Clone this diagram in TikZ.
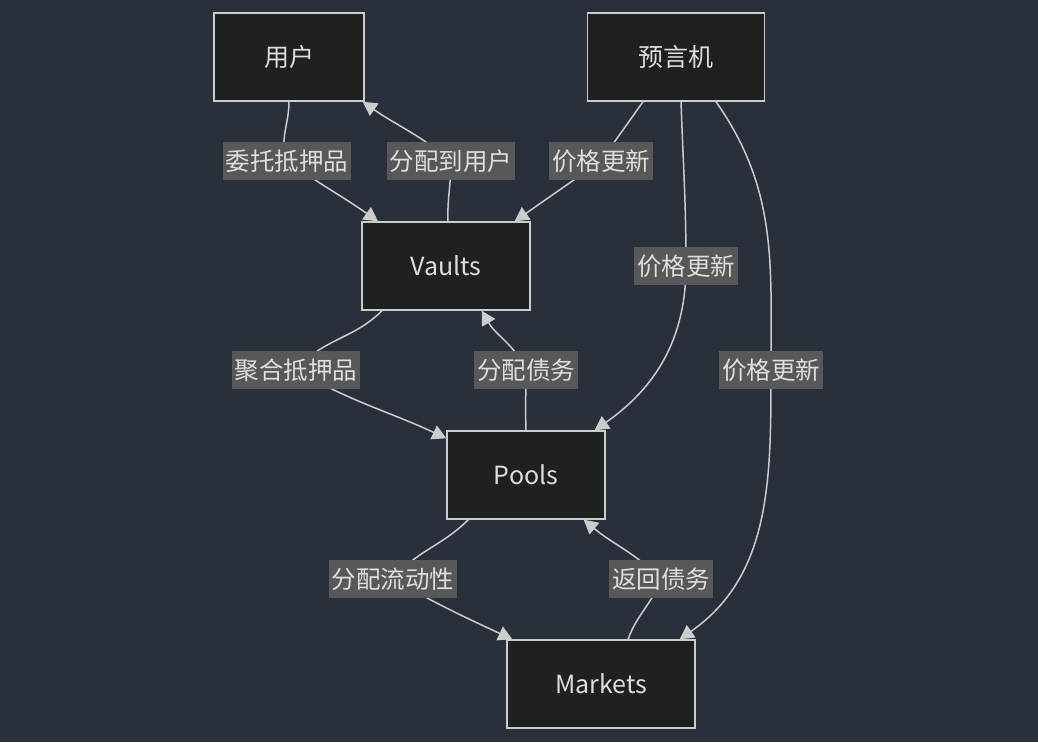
\documentclass[tikz,border=0pt]{standalone}
\usepackage{fontspec}
\setmainfont{Noto Sans CJK SC}
\usetikzlibrary{arrows.meta}

\definecolor{bgcol}{RGB}{42,47,60}
\definecolor{boxfill}{RGB}{31,32,32}
\definecolor{boxline}{RGB}{204,204,204}
\definecolor{labelbg}{RGB}{88,88,88}
\definecolor{labeltext}{RGB}{222,222,222}

\tikzset{
  box/.style = {draw = boxline, fill = boxfill, line width = 1.4pt, minimum height = 88pt,
    text = labeltext, font = \fontsize{25}{29}\selectfont},
  flow/.style = {draw = boxline, line width = 1.5pt, -{Triangle[length = 14pt, width = 15pt]}},
  elabel/.style = {fill = labelbg, text = labeltext, inner xsep = 3pt, inner ysep = 0pt,
    minimum height = 38pt, font = \fontsize{24.5}{29}\selectfont}
}

\begin{document}
\begin{tikzpicture}[x = 1pt, y = 1pt]
  \fill[bgcol] (0, 0) rectangle (1038, 742);
  \useasboundingbox (0, 0) rectangle (1038, 742);

  \node[box, minimum width = 150pt] (user) at (289, 685) {用户};
  \node[box, minimum width = 177pt] (oracle) at (676, 685) {预言机};
  \node[box, minimum width = 168pt] (vaults) at (446, 476) {Vaults};
  \node[box, minimum width = 158pt] (pools) at (526, 267) {Pools};
  \node[box, minimum width = 188pt] (markets) at (601, 58) {Markets};

  \draw[flow] (user.south) to[out = -90, in = 110] (287, 581) node[elabel] {委托抵押品}
    to[out = -35, in = 145] ([xshift = -68pt]vaults.north);
  \draw[flow] ([xshift = 2pt]vaults.north) to[out = 92, in = -90] (451, 581) node[elabel] {分配到用户}
    to[out = 140, in = -35] ([xshift = -2pt]user.south east);
  \draw[flow] ([xshift = -33pt]oracle.south) to[out = -125, in = 55] (601, 581) node[elabel] {价格更新}
    to[out = -145, in = 35] ([xshift = -16pt]vaults.north east);

  \draw[flow] ([xshift = 5pt]oracle.south) to[out = -88, in = 90] (686, 476) node[elabel] {价格更新}
    to[out = -90, in = 35] ([xshift = -11pt]pools.north east);
  \draw[flow] ([xshift = 40pt]oracle.south) to[out = -55, in = 90] (771, 372) node[elabel] {价格更新}
    to[out = -90, in = 35] ([xshift = -16pt]markets.north east);

  \draw[flow] ([xshift = -64pt]vaults.south) to[out = -135, in = 50] (296, 372) node[elabel] {聚合抵押品}
    to[out = -30, in = 155] ([yshift = -8pt]pools.north west);
  \draw[flow] (pools.north) to[out = 92, in = -90] (526, 372) node[elabel] {分配债务}
    to[out = 115, in = -60] ([xshift = -49pt]vaults.south east);

  \draw[flow] ([xshift = 22pt]pools.south west) to[out = -135, in = 50] (393, 163) node[elabel] {分配流动性}
    to[out = -30, in = 155] ([xshift = 6pt]markets.north west);
  \draw[flow] ([xshift = 27pt]markets.north) to[out = 70, in = -110] (661, 163) node[elabel] {返回债务}
    to[out = 135, in = -40] ([xshift = -22pt]pools.south east);
\end{tikzpicture}
\end{document}
